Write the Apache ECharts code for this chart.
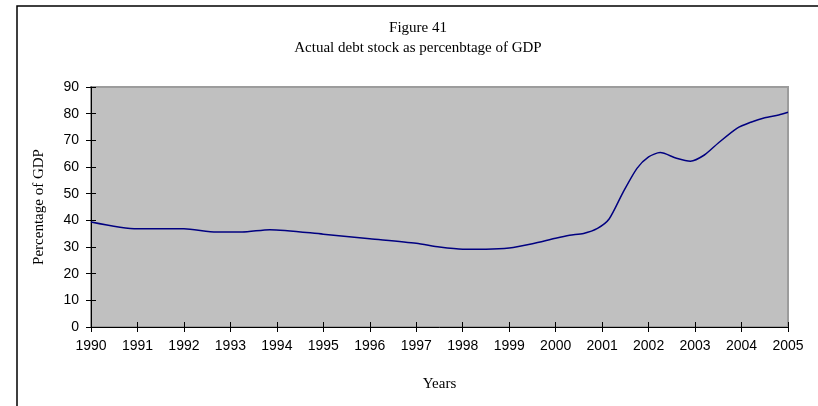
<!DOCTYPE html>
<html>
<head>
<meta charset="utf-8">
<script src="https://cdn.jsdelivr.net/npm/echarts@6/dist/echarts.min.js"></script>
<style>html,body{margin:0;padding:0;background:#fff;}#c{width:818px;height:406px;}</style>
</head>
<body>
<div id="c"></div>
<script>
const years = [1990.0,1991.0,1992.0,1992.7,1993.25,1993.85,1995.0,1996.0,1997.0,1997.5,1998.0,1998.5,1999.0,1999.5,2000.0,2000.3,2000.6,2000.9,2001.15,2001.45,2001.75,2002.0,2002.25,2002.6,2002.9,2003.2,2003.5,2003.9,2004.2,2004.5,2004.8,2005.0];
const debtPct = [39.4,36.8,36.8,35.6,35.6,36.5,34.8,33.1,31.4,30.0,29.2,29.2,29.6,31.2,33.3,34.4,35.1,37.0,40.5,50.5,59.5,63.8,65.4,63.3,62.2,64.5,69.0,74.5,76.8,78.5,79.5,80.5];
const xTickLabels = ['1990','1991','1992','1993','1994','1995','1996','1997','1998','1999','2000','2001','2002','2003','2004','2005'];
const yTickLabels = ['0','10','20','30','40','50','60','70','80','90'];
const titleText = 'Figure 41';
const subtitleText = 'Actual debt stock as percenbtage of GDP';

const chart = echarts.init(document.getElementById('c'), null, {renderer:'canvas'});
const serif = '"Liberation Serif", "Times New Roman", serif';
const sans = '"Liberation Sans", Arial, sans-serif';
const xLabel = v => { const i = Math.round(v - 1990); return xTickLabels[i] !== undefined ? xTickLabels[i] : ''; };
const yLabel = v => { const i = Math.round(v / 10); return yTickLabels[i] !== undefined ? yTickLabels[i] : ''; };

chart.setOption({
  animation: false,
  backgroundColor: '#ffffff',
  graphic: [
    {type:'rect', shape:{x:17, y:6, width:830, height:430}, style:{fill:'none', stroke:'#000', lineWidth:1.5}, z:-10},
    {type:'text', x:418, y:28, style:{text:titleText, font:'15px ' + serif, fill:'#000', textAlign:'center', textVerticalAlign:'middle'}},
    {type:'text', x:418, y:48, style:{text:subtitleText, font:'15px ' + serif, fill:'#000', textAlign:'center', textVerticalAlign:'middle'}}
  ],
  grid: {left:91, right:30, top:87, bottom:79, show:true, backgroundColor:'#c0c0c0', borderColor:'#9c9c9c', borderWidth:2},
  xAxis: [
    {type:'value', min:1990, max:2005, interval:1, position:'bottom',
     name:'Years', nameLocation:'middle', nameGap:50, nameTextStyle:{fontFamily:serif, fontSize:15, color:'#000'},
     axisLine:{show:true, lineStyle:{color:'#000', width:1}},
     axisTick:{show:true, inside:false, length:5, lineStyle:{color:'#000'}},
     axisLabel:{formatter:xLabel, fontFamily:sans, fontSize:14, color:'#000', margin:12},
     splitLine:{show:false}},
    {type:'value', min:1990, max:2005, interval:1, position:'bottom',
     axisLine:{show:false}, axisTick:{show:true, inside:true, length:5, lineStyle:{color:'#000'}},
     axisLabel:{show:false}, splitLine:{show:false}}
  ],
  yAxis: [
    {type:'value', min:0, max:90, interval:10, position:'left',
     name:'Percentage of GDP', nameLocation:'middle', nameGap:44, nameRotate:90,
     nameTextStyle:{fontFamily:serif, fontSize:15, color:'#000'},
     axisLine:{show:true, lineStyle:{color:'#000', width:1}},
     axisTick:{show:true, inside:false, length:5, lineStyle:{color:'#000'}},
     axisLabel:{formatter:yLabel, fontFamily:sans, fontSize:14, color:'#000', margin:12},
     splitLine:{show:false}},
    {type:'value', min:0, max:90, interval:10, position:'left',
     axisLine:{show:false}, axisTick:{show:true, inside:true, length:5, lineStyle:{color:'#000'}},
     axisLabel:{show:false}, splitLine:{show:false}}
  ],
  series: [{
    type:'line', xAxisIndex:0, yAxisIndex:0,
    data: years.map((y,i)=>[y, debtPct[i]]),
    smooth:0.25, showSymbol:false, symbol:'none',
    lineStyle:{color:'#000080', width:1.5}
  }]
});
</script>
</body>
</html>
